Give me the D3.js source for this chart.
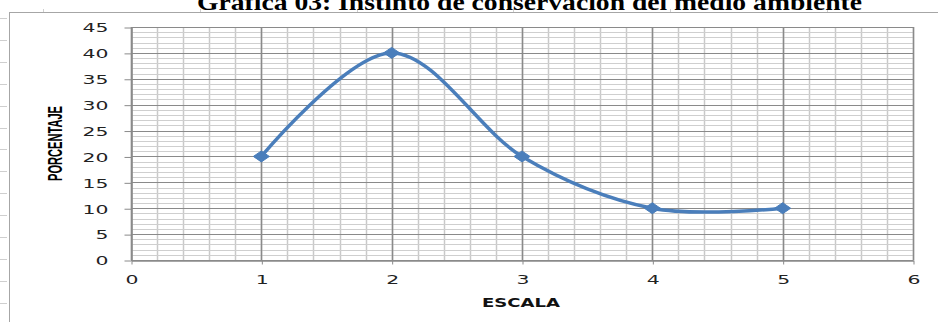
<!DOCTYPE html>
<html>
<head>
<meta charset="utf-8">
<script src="https://cdn.jsdelivr.net/npm/d3@7"></script>
<style>
  body { margin: 0; background: #fff; }
  svg { display: block; }
</style>
</head>
<body>
<div id="chart"></div>
<script>
/** data **/
var escala = [1, 2, 3, 4, 5];
var porcentaje = [20, 40, 20, 10, 10];
var xTicks = [0, 1, 2, 3, 4, 5, 6];
var yTicks = [0, 5, 10, 15, 20, 25, 30, 35, 40, 45];
var titleText = "Gráfica 03: Instinto de conservación del medio ambiente";

/** size of the picture, the text in the source is stretched sideways **/
var width = 938,
    height = 322,
    stretch = 1.7,
    plot = {left: 131, right: 913, top: 27, bottom: 260};

var svg = d3.select("#chart").append("svg")
    .attr("width", width)
    .attr("height", height);

var x = d3.scaleLinear().domain([0, 6]).range([plot.left, plot.right]);
var y = d3.scaleLinear().domain([0, 45]).range([plot.bottom, plot.top]);

// outer frame and the little ruler marks around it
svg.append("line")
    .attr("x1", 9).attr("x2", width).attr("y1", 12.5).attr("y2", 12.5)
    .style("stroke", "#a6a6a6");
svg.append("line")
    .attr("x1", 9.5).attr("x2", 9.5).attr("y1", 12).attr("y2", height)
    .style("stroke", "#a6a6a6");
svg.selectAll(".rulerLeft")
    .data(d3.range(18, height, 21.9))
    .enter().append("line")
    .attr("class", "rulerLeft")
    .attr("x1", 0).attr("x2", 7)
    .attr("y1", function(d) { return Math.round(d) + 0.5; })
    .attr("y2", function(d) { return Math.round(d) + 0.5; })
    .style("stroke", "#cfcfcf");
svg.selectAll(".rulerTop")
    .data(d3.range(43, width, 156.8))
    .enter().append("line")
    .attr("class", "rulerTop")
    .attr("x1", function(d) { return Math.round(d) + 0.5; })
    .attr("x2", function(d) { return Math.round(d) + 0.5; })
    .attr("y1", 9).attr("y2", 12)
    .style("stroke", "#cfcfcf");

// title, only its lower half is on the picture
svg.append("text")
    .attr("x", 197)
    .attr("y", 10)
    .attr("textLength", 665)
    .attr("lengthAdjust", "spacingAndGlyphs")
    .style("font-family", "'Liberation Serif', 'DejaVu Serif', serif")
    .style("font-weight", "bold")
    .style("font-size", "23px")
    .style("fill", "#000")
    .text(titleText);

/** grid: minor lines first, then the major ones on top **/
var grid = svg.append("g").attr("class", "grid");

grid.selectAll(".minorX")
    .data(x.ticks(30))
    .enter().append("line")
    .attr("class", "minorX")
    .attr("x1", function(d) { return Math.round(x(d)) + 0.5; })
    .attr("x2", function(d) { return Math.round(x(d)) + 0.5; })
    .attr("y1", plot.top).attr("y2", plot.bottom)
    .style("stroke", "#c9c9c9")
    .style("stroke-width", 1.5);

grid.selectAll(".minorY")
    .data(y.ticks(45))
    .enter().append("line")
    .attr("class", "minorY")
    .attr("x1", plot.left).attr("x2", plot.right)
    .attr("y1", function(d) { return Math.round(y(d)) + 0.5; })
    .attr("y2", function(d) { return Math.round(y(d)) + 0.5; })
    .style("stroke", "#cfcfcf");

grid.selectAll(".majorX")
    .data(xTicks)
    .enter().append("line")
    .attr("class", "majorX")
    .attr("x1", function(d) { return Math.round(x(d)) + 0.5; })
    .attr("x2", function(d) { return Math.round(x(d)) + 0.5; })
    .attr("y1", plot.top).attr("y2", plot.bottom)
    .style("stroke", "#8a8a8a")
    .style("stroke-width", 1.5);

grid.selectAll(".majorY")
    .data(yTicks)
    .enter().append("line")
    .attr("class", "majorY")
    .attr("x1", plot.left).attr("x2", plot.right)
    .attr("y1", function(d) { return Math.round(y(d)) + 0.5; })
    .attr("y2", function(d) { return Math.round(y(d)) + 0.5; })
    .style("stroke", "#8a8a8a");

/** axes **/
var yAxis = svg.append("g")
    .attr("transform", "translate(" + (plot.left + 0.5) + ",0.5)")
    .call(d3.axisLeft(y).tickValues(yTicks).tickFormat(d3.format("d"))
        .tickSize(7).tickSizeOuter(0));

var xAxis = svg.append("g")
    .attr("transform", "translate(0.5," + (plot.bottom + 0.5) + ")")
    .call(d3.axisBottom(x).tickValues(xTicks).tickFormat(d3.format("d"))
        .tickSize(4).tickSizeOuter(0));

[yAxis, xAxis].forEach(function(ax) {
    ax.select(".domain").style("stroke", "#8a8a8a").style("stroke-width", 1.5);
    ax.selectAll(".tick line").style("stroke", "#8a8a8a");
    ax.selectAll(".tick text")
        .style("font-family", "'DejaVu Sans', Verdana, sans-serif")
        .style("font-size", "12px")
        .style("fill", "#222");
});

yAxis.selectAll(".tick text")
    .attr("x", 0)
    .attr("dy", "0.36em")
    .attr("transform", "translate(-23,0) scale(" + stretch + ",1)");

xAxis.selectAll(".tick text")
    .attr("y", 0)
    .attr("dy", 0)
    .attr("transform", "translate(0,23) scale(" + stretch + ",1)");

// axis titles
svg.append("text")
    .attr("transform", "translate(62,143.5) scale(1.35,1) rotate(-90)")
    .attr("text-anchor", "middle")
    .attr("textLength", 75)
    .attr("lengthAdjust", "spacingAndGlyphs")
    .style("font-family", "'Liberation Sans Narrow', 'Liberation Sans', Arial, sans-serif")
    .style("font-weight", "bold")
    .style("font-size", "15px")
    .style("fill", "#000")
    .text("PORCENTAJE");

svg.append("text")
    .attr("x", 482)
    .attr("y", 307)
    .attr("textLength", 78)
    .attr("lengthAdjust", "spacingAndGlyphs")
    .style("font-family", "'DejaVu Sans', Verdana, sans-serif")
    .style("font-weight", "bold")
    .style("font-size", "12.5px")
    .style("fill", "#111")
    .text("ESCALA");

/** smoothed series line and diamond markers **/
var points = escala.map(function(d, i) {
    return {x: d, y: porcentaje[i]};
});

var line = d3.line()
    .x(function(d) { return x(d.x); })
    .y(function(d) { return y(d.y); })
    .curve(d3.curveCardinal.tension(0));

svg.append("path")
    .datum(points)
    .attr("d", line)
    .style("fill", "none")
    .style("stroke", "#4a7ebb")
    .style("stroke-width", 3.5)
    .style("stroke-linecap", "round");

svg.selectAll(".marker")
    .data(points)
    .enter().append("path")
    .attr("class", "marker")
    .attr("transform", function(d) {
        return "translate(" + x(d.x) + "," + y(d.y) + ")";
    })
    .attr("d", "M-8,0L0,-5.5L8,0L0,5.5Z")
    .style("fill", "#4a7ebb")
    .style("stroke", "#4a7ebb")
    .style("stroke-width", 1);
</script>
</body>
</html>
